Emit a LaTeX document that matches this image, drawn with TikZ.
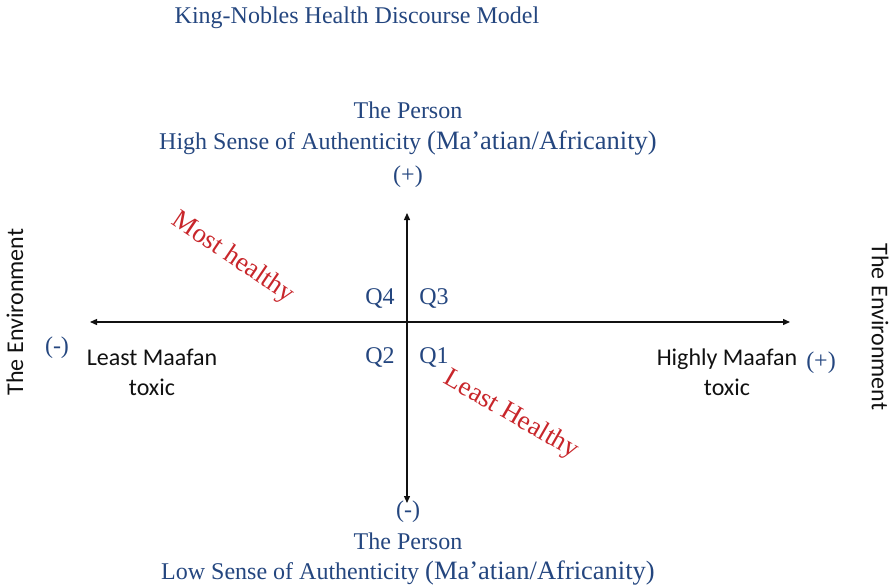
\documentclass[tikz,border=0pt]{standalone}
\usepackage{fontspec}
\setmainfont{Liberation Serif}
\newfontfamily\envfont{Carlito}
\usetikzlibrary{arrows.meta}
\definecolor{kblue}{HTML}{24467F}
\definecolor{kred}{HTML}{C8262B}
\definecolor{kblack}{HTML}{111111}

\tikzset{
  bluetxt/.style={kblue,inner sep=0pt,font=\fontsize{24}{28}\selectfont},
  redtxt/.style={kred,inner sep=0pt,font=\fontsize{27}{30}\selectfont},
  envtxt/.style={kblack,inner sep=0pt,align=center,font=\envfont\fontsize{24}{30}\selectfont},
  axisline/.style={kblack,line width=1.3pt,{Triangle[length=7pt,width=6pt]}-{Triangle[length=7pt,width=6pt]}}
}

\begin{document}
\begin{tikzpicture}[x=1pt,y=-1pt]
\useasboundingbox (0,0) rectangle (893,588);

% ===== Title =====
\node[bluetxt] (title) at (357,18) {King-Nobles Health Discourse Model};

% ===== The Person: top and bottom =====
\node[bluetxt] (topperson) at (408,110) {The Person};
\node[bluetxt] (topsense) at (408,143) {High Sense of Authenticity {\fontsize{26.5}{28}\selectfont(Ma’atian/Africanity)}};
\node[bluetxt] (topplus) at (408,177) {(+)};

\node[bluetxt] (botminus) at (408,512) {(-)};
\node[bluetxt] (botperson) at (408,541) {The Person};
\node[bluetxt] (botsense) at (408,573) {Low Sense of Authenticity {\fontsize{26.5}{28}\selectfont(Ma’atian/Africanity)}};

% ===== Axes =====
\coordinate (ytop) at (407,213);
\coordinate (ybot) at (407,503);
\coordinate (xleft) at (90,322);
\coordinate (xright) at (790,322);
\draw[axisline] (xleft) -- (xright);
\draw[axisline] (ybot) -- (ytop);

% Quadrants
\node[bluetxt] (qfour) at (380,298) {Q4};
\node[bluetxt] (qthree) at (434,298) {Q3};
\node[bluetxt] (qtwo) at (380,357) {Q2};
\node[bluetxt] (qone) at (434,357) {Q1};

% Health labels
\node[redtxt,rotate=-34] (most) at (233,258) {Most healthy};
\node[redtxt,rotate=-30] (leasth) at (511,415) {Least Healthy};

% ===== The Environment: left and right =====
\node[bluetxt] (leftminus) at (57,348) {(-)};
\node[envtxt] (leastmaafan) at (152,372) {Least Maafan\\toxic};
\node[envtxt] (highmaafan) at (727,372) {Highly Maafan\\toxic};
\node[bluetxt] (rightplus) at (821,363) {(+)};

\node[envtxt,rotate=90] (envleft) at (15,312) {The Environment};
\node[envtxt,rotate=-90] (envright) at (880,327) {The Environment};

\end{tikzpicture}
\end{document}
